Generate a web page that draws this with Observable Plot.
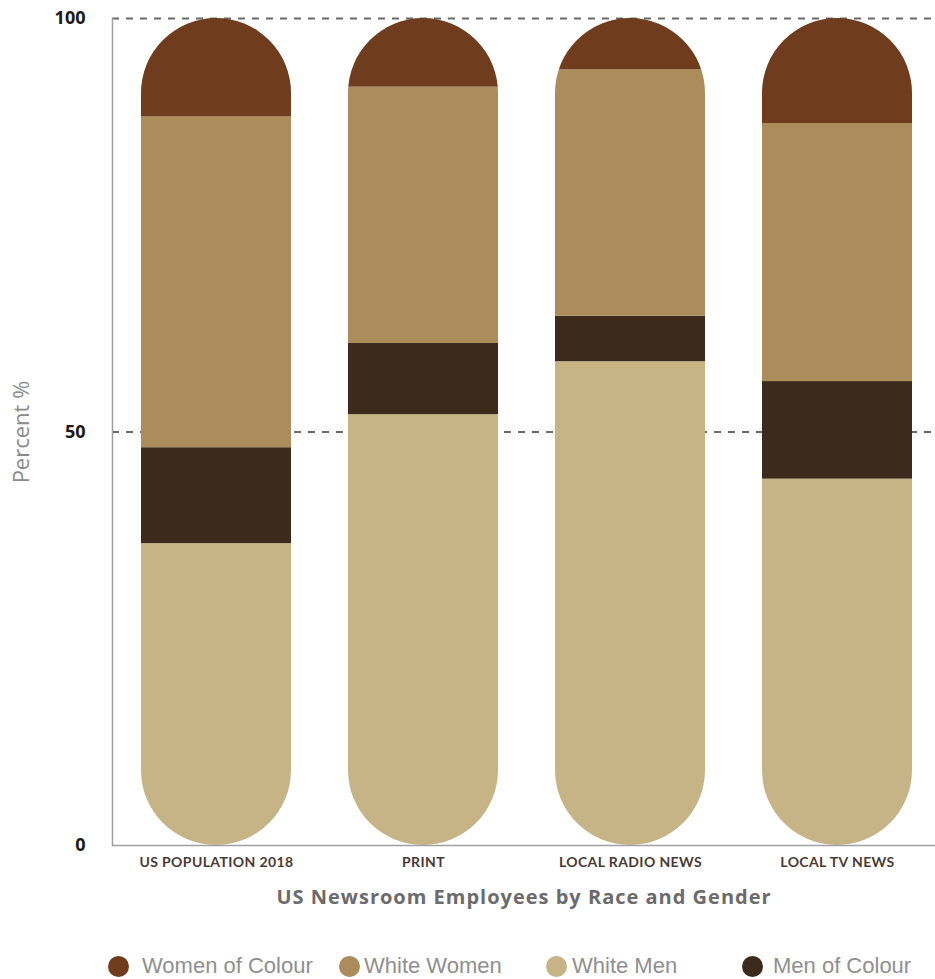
<!DOCTYPE html>
<html>
<head>
<meta charset="utf-8">
<script src="https://cdn.jsdelivr.net/npm/d3@7"></script>
<script src="https://cdn.jsdelivr.net/npm/@observablehq/plot@0.6"></script>
<style>
  html, body { margin: 0; padding: 0; background: #fff; }
  #wrap { position: relative; width: 935px; }
  g[aria-label="x-axis tick label"] text { letter-spacing: 0.4px; }
  .xtitle text { letter-spacing: 1px; }
  #legend { position: relative; width: 935px; height: 49px; font-family: "Liberation Sans", Arial, sans-serif; font-size: 22px; color: #8f8f8f; }
  #legend .dot { position: absolute; width: 21px; height: 21px; border-radius: 50%; top: 26px; }
  #legend .lab { position: absolute; top: 23px; line-height: 26px; white-space: nowrap; }
</style>
</head>
<body>
<div id="wrap"></div>
<div id="legend"></div>
<script>
// ---- data ----
const categories = ["US POPULATION 2018", "PRINT", "LOCAL RADIO NEWS", "LOCAL TV NEWS"];
const groups = ["White Men", "Men of Colour", "White Women", "Women of Colour"];
const whiteMen = [36.5, 52.1, 58.5, 44.3];
const menOfColour = [11.6, 8.6, 5.5, 11.8];
const whiteWomen = [40.0, 31.0, 29.8, 31.2];
const womenOfColour = [11.9, 8.3, 6.2, 12.7];
const groupColors = ["#c6b487", "#3c2a1d", "#ab8c5b", "#6f3c1e"];
const legendOrder = ["Women of Colour", "White Women", "White Men", "Men of Colour"];
const yTicks = [0, 50, 100];
const yLabel = "Percent %";
const xTitle = "US Newsroom Employees by Race and Gender";

const seriesValues = [whiteMen, menOfColour, whiteWomen, womenOfColour];
const rows = [];
categories.forEach((c, i) => {
  groups.forEach((g, j) => rows.push({category: c, group: g, value: seriesValues[j][i]}));
});

const chart = Plot.plot({
  width: 935,
  height: 930,
  marginTop: 18,
  marginBottom: 85,
  marginLeft: 112,
  marginRight: 0,
  style: {background: "#fff", overflow: "visible"},
  x: {domain: categories, paddingInner: 0.276, paddingOuter: 0.125, align: 0.55, label: null},
  y: {domain: [0, 100], label: null},
  color: {domain: groups, range: groupColors},
  marks: [
    Plot.ruleY([50, 100], {stroke: "#6a6a6a", strokeWidth: 2, strokeDasharray: "7,7"}),
    Plot.barY(rows, Plot.groupX({y: "sum"}, {x: "category", y: "value", fill: "none"})),
    Plot.barY(rows, {x: "category", y: "value", z: "group", fill: "group", order: groups}),
    Plot.ruleY([0], {stroke: "#a0a0a0", strokeWidth: 1.5}),
    Plot.frame({anchor: "left", stroke: "#a0a0a0", strokeWidth: 1.5}),
    Plot.axisY({ticks: yTicks, tickSize: 0, tickPadding: 27, fontSize: 18, fontWeight: 700, fontFamily: "Open Sans", color: "#1a1a1a", label: null}),
    Plot.axisX({tickSize: 0, tickPadding: 12, fontSize: 14, fontWeight: 700, fontFamily: "Lato", color: "#4a3a33", label: null}),
    Plot.text([yLabel], {frameAnchor: "left", textAnchor: "middle", dx: -91, rotate: -90, fontSize: 22, fontFamily: "Open Sans", fill: "#8a8a8a"}),
    Plot.text([xTitle], {frameAnchor: "bottom", lineAnchor: "middle", dy: 52, fontSize: 20, fontWeight: 700, fontFamily: "Open Sans", fill: "#6b6b6b"})
  ]
});

// pill-shaped clipping of the stacked segments
(function clipPills(svg) {
  const ns = "http://www.w3.org/2000/svg";
  const markEls = Array.from(svg.children).filter(e => e.tagName.toLowerCase() !== "style");
  const pillG = markEls[1];
  const segG = markEls[2];
  const titleG = markEls[markEls.length - 1];
  if (titleG) titleG.classList.add("xtitle");
  if (!pillG || !segG) return;
  const defs = document.createElementNS(ns, "defs");
  const cp = document.createElementNS(ns, "clipPath");
  cp.setAttribute("id", "pill-clip");
  const t = pillG.getAttribute("transform");
  const st = segG.getAttribute("transform");
  Array.from(pillG.querySelectorAll("rect")).forEach(r => {
    const w = +r.getAttribute("width");
    r.setAttribute("rx", w / 2);
    r.setAttribute("ry", w / 2);
    if (t && t !== st) r.setAttribute("transform", t);
    cp.appendChild(r);
  });
  defs.appendChild(cp);
  svg.insertBefore(defs, svg.firstChild);
  pillG.remove();
  if (st) {
    const inner = document.createElementNS(ns, "g");
    inner.setAttribute("transform", st);
    while (segG.firstChild) inner.appendChild(segG.firstChild);
    segG.removeAttribute("transform");
    segG.appendChild(inner);
  }
  segG.setAttribute("clip-path", "url(#pill-clip)");
})(chart);

document.getElementById("wrap").appendChild(chart);

// legend
const legendPos = {"Women of Colour": [108, 142], "White Women": [339, 364], "White Men": [546, 572], "Men of Colour": [742, 773]};
const legend = document.getElementById("legend");
legendOrder.forEach(name => {
  const [cx, tx] = legendPos[name];
  const dot = document.createElement("span");
  dot.className = "dot";
  dot.style.left = cx + "px";
  dot.style.background = groupColors[groups.indexOf(name)];
  const lab = document.createElement("span");
  lab.className = "lab";
  lab.style.left = tx + "px";
  lab.textContent = name;
  legend.appendChild(dot);
  legend.appendChild(lab);
});
</script>
</body>
</html>
